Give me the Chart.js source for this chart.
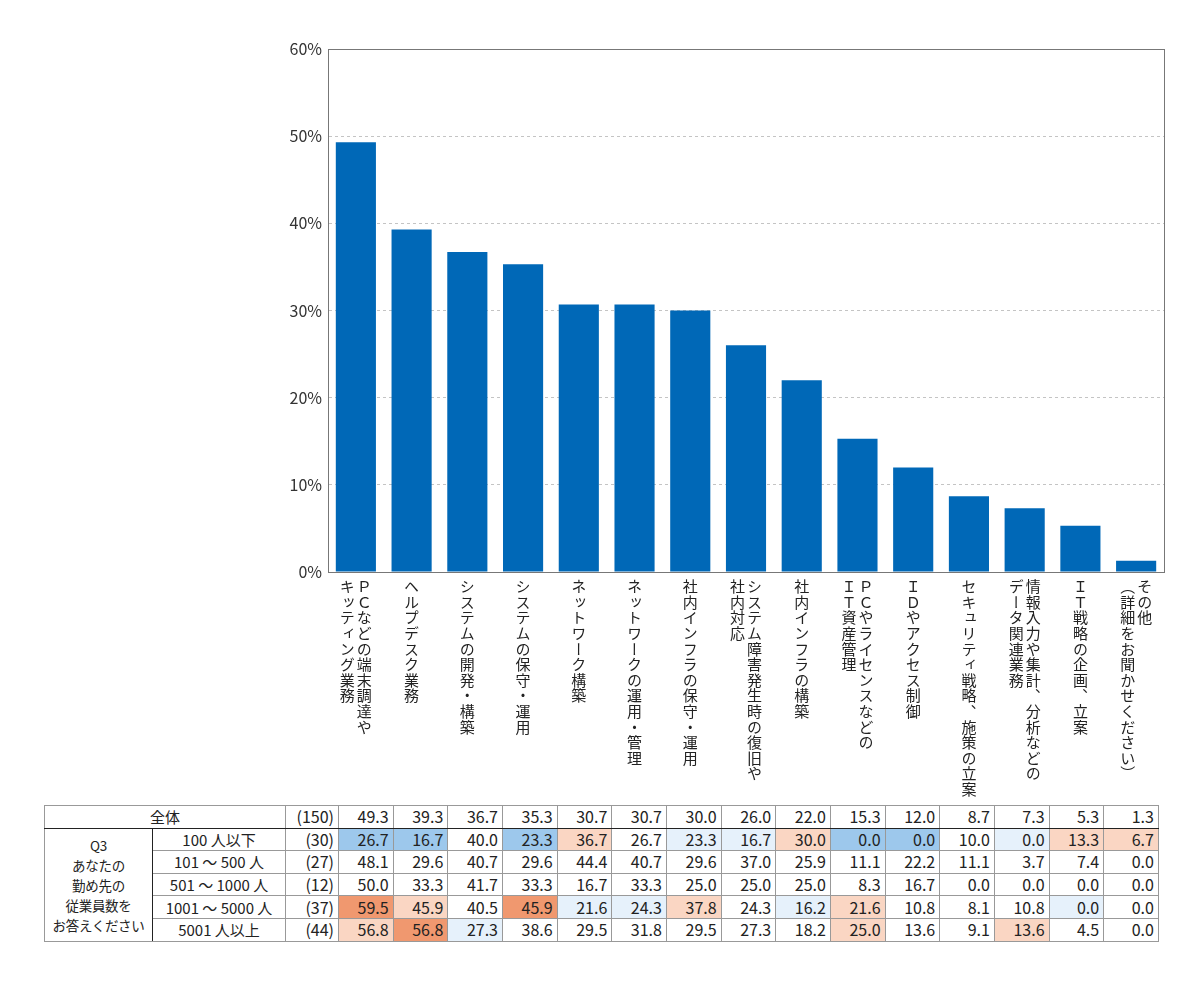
<!DOCTYPE html>
<html lang="ja">
<head>
<meta charset="utf-8">
<script src="https://cdn.jsdelivr.net/npm/chart.js@4.4.0/dist/chart.umd.min.js"></script>
<style>
body { margin: 0; background: #fff; font-family: "Noto Sans CJK JP", sans-serif; }
#wrap { position: relative; width: 1200px; height: 1000px; overflow: hidden; }
#chart { position: absolute; left: 0; top: 0; }
.xl {
	position: absolute; top: 579px;
	writing-mode: vertical-rl; white-space: pre;
	font-size: 15px; line-height: 17px; letter-spacing: 0.6px; color: #222;
	transform: translateX(-50%);
}
#tbl {
	position: absolute; left: 44px; top: 805px;
	border-collapse: collapse; table-layout: fixed;
	font-size: 16px; color: #222; border: 1px solid #222;
}
#tbl td { border: 1px solid #999; height: 21.6px; padding: 0 4px 0 0; text-align: right; line-height: 21px; white-space: nowrap; overflow: hidden; }
#tbl td.lbl { text-align: center; padding: 0; font-size: 15px; }
#tbl td.q { text-align: center; padding: 0; font-size: 13.5px; line-height: 20px; letter-spacing: -0.3px; border-right: 1px solid #222; }
#tbl tr.all td { border-bottom: 1px solid #222; }
</style>
</head>
<body>
<div id="wrap">
	<canvas id="chart" width="1200" height="800"></canvas>
	<table id="tbl"></table>
</div>
<script>
// category labels (vertical, first line on the right)
const categories = [
	"ＰＣなどの端末調達や\nキッティング業務",
	"ヘルプデスク業務",
	"システムの開発・構築",
	"システムの保守・運用",
	"ネットワーク構築",
	"ネットワークの運用・管理",
	"社内インフラの保守・運用",
	"システム障害発生時の復旧や\n社内対応",
	"社内インフラの構築",
	"ＰＣやライセンスなどの\nＩＴ資産管理",
	"ＩＤやアクセス制御",
	"セキュリティ戦略、施策の立案",
	"情報入力や集計、分析などの\nデータ関連業務",
	"ＩＴ戦略の企画、立案",
	"その他\n（詳細をお聞かせください）"
]
const overall = [49.3, 39.3, 36.7, 35.3, 30.7, 30.7, 30.0, 26.0, 22.0, 15.3, 12.0, 8.7, 7.3, 5.3, 1.3]
const overallN = 150
const yTicks = [0, 10, 20, 30, 40, 50, 60]

const groupTitle = "Q3<br>あなたの<br>勤め先の<br>従業員数を<br>お答えください"
const groups = ["100 人以下", "101 ～ 500 人", "501 ～ 1000 人", "1001 ～ 5000 人", "5001 人以上"]
const groupN = [30, 27, 12, 37, 44]
const size100 = [26.7, 16.7, 40.0, 23.3, 36.7, 26.7, 23.3, 16.7, 30.0, 0.0, 0.0, 10.0, 0.0, 13.3, 6.7]
const size500 = [48.1, 29.6, 40.7, 29.6, 44.4, 40.7, 29.6, 37.0, 25.9, 11.1, 22.2, 11.1, 3.7, 7.4, 0.0]
const size1000 = [50.0, 33.3, 41.7, 33.3, 16.7, 33.3, 25.0, 25.0, 25.0, 8.3, 16.7, 0.0, 0.0, 0.0, 0.0]
const size5000 = [59.5, 45.9, 40.5, 45.9, 21.6, 24.3, 37.8, 24.3, 16.2, 21.6, 10.8, 8.1, 10.8, 0.0, 0.0]
const sizeOver = [56.8, 56.8, 27.3, 38.6, 29.5, 31.8, 29.5, 27.3, 18.2, 25.0, 13.6, 9.1, 13.6, 4.5, 0.0]
// highlight vs overall: B = much lower, b = lower, o = higher, O = much higher
const mark100 = ["B", "B", "", "B", "o", "", "b", "b", "o", "B", "B", "", "b", "o", "o"]
const mark500 = ["", "", "", "", "", "", "", "", "", "", "", "", "", "", ""]
const mark1000 = ["", "", "", "", "", "", "", "", "", "", "", "", "", "", ""]
const mark5000 = ["O", "o", "", "O", "b", "b", "o", "", "b", "o", "", "", "", "b", ""]
const markOver = ["o", "O", "b", "", "", "", "", "", "", "o", "", "", "o", "", ""]

const groupValues = [size100, size500, size1000, size5000, sizeOver]
const groupMarks = [mark100, mark500, mark1000, mark5000, markOver]
const markColors = { B: "#9dc8ec", b: "#e6f1fb", o: "#fad6c3", O: "#f0986f" }

const boxPlugin = {
	id: 'box',
	afterDraw(chart) {
		const a = chart.chartArea, c = chart.ctx
		c.save()
		c.strokeStyle = '#777'
		c.lineWidth = 1
		c.strokeRect(Math.round(a.left) + 0.5, Math.round(a.top) + 0.5, Math.round(a.right - a.left), Math.round(a.bottom - a.top))
		c.restore()
	}
}

const chart = new Chart(document.getElementById('chart'), {
	type: 'bar',
	data: {
		labels: categories,
		datasets: [{
			data: overall,
			backgroundColor: '#0068b7',
			barPercentage: 0.72,
			categoryPercentage: 1
		}]
	},
	options: {
		responsive: false,
		animation: false,
		layout: { padding: { left: 268, right: 36, top: 49, bottom: 0 } },
		plugins: { legend: { display: false }, tooltip: { enabled: false } },
		scales: {
			x: {
				grid: { display: false },
				ticks: { display: false },
				border: { color: '#777' },
				afterFit: (s) => { s.height = 228 }
			},
			y: {
				min: 0,
				max: 60,
				afterBuildTicks: (s) => { s.ticks = yTicks.map(v => ({ value: v })) },
				ticks: {
					callback: (v) => v + '%',
					font: { family: '"Noto Sans CJK JP", sans-serif', size: 16 },
					color: '#333',
					padding: 6
				},
				grid: { color: '#c4c4c4', drawTicks: false },
				border: { color: '#777', dash: [3, 3] },
				afterFit: (s) => { s.width = 60 }
			}
		}
	},
	plugins: [boxPlugin]
})

// vertical category labels under the bars
const wrap = document.getElementById('wrap')
categories.forEach((label, i) => {
	const d = document.createElement('div')
	d.className = 'xl'
	d.textContent = label
	d.style.left = chart.scales.x.getPixelForValue(i) + 'px'
	wrap.appendChild(d)
})

// table under the chart
const fmt = v => v.toFixed(1)
let html = "<colgroup><col style='width:108px'><col style='width:133px'><col style='width:53px'>"
categories.forEach(() => { html += "<col style='width:54.67px'>" })
html += "</colgroup>"
html += "<tr class='all'><td class='lbl' colspan='2'>全体</td><td>(" + overallN + ")</td>"
overall.forEach(v => { html += "<td>" + fmt(v) + "</td>" })
html += "</tr>"
groups.forEach((g, r) => {
	html += "<tr>"
	if (r === 0) html += "<td class='q' rowspan='" + groups.length + "'>" + groupTitle + "</td>"
	html += "<td class='lbl'>" + g + "</td><td>(" + groupN[r] + ")</td>"
	groupValues[r].forEach((v, i) => {
		let m = groupMarks[r][i]
		let bg = m ? " style='background:" + markColors[m] + "'" : ""
		html += "<td" + bg + ">" + fmt(v) + "</td>"
	})
	html += "</tr>"
})
document.getElementById('tbl').innerHTML = html
</script>
</body>
</html>
